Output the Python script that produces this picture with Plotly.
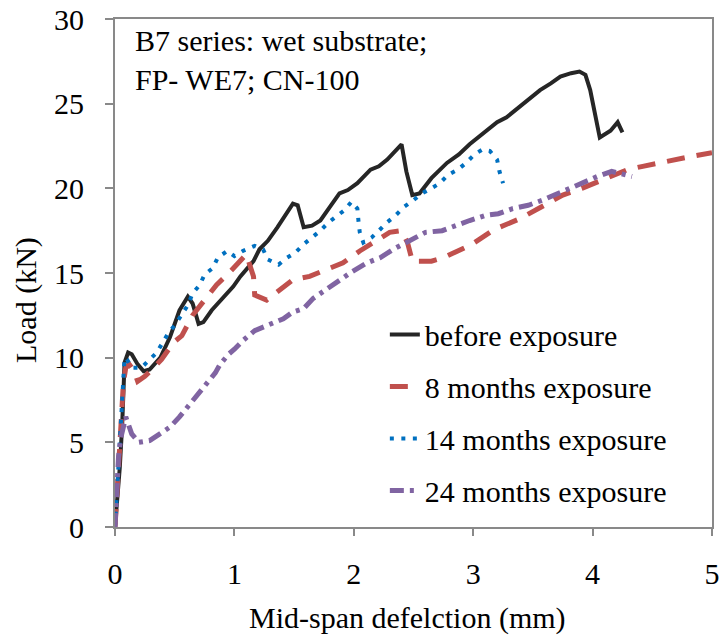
import plotly.graph_objects as go

# ---- data (mid-span deflection mm, load kN) ----
before_x = [0, 0.02, 0.04, 0.06, 0.07, 0.08, 0.11, 0.14, 0.19, 0.24, 0.29, 0.38, 0.46, 0.54, 0.61, 0.65,
            0.70, 0.74, 0.81, 0.90, 0.99, 1.05, 1.16, 1.21, 1.28, 1.36, 1.43, 1.49, 1.53, 1.58, 1.65, 1.72,
            1.80, 1.88, 1.95, 2.03, 2.14, 2.21, 2.28, 2.35, 2.40, 2.44, 2.49, 2.55, 2.65, 2.78, 2.88, 2.97,
            3.08, 3.20, 3.28, 3.37, 3.46, 3.56, 3.65, 3.73, 3.82, 3.89, 3.94, 3.98, 4.06, 4.10, 4.15, 4.21, 4.25]
before_y = [0, 1.5, 3.5, 6.0, 7.5, 9.7, 10.3, 10.2, 9.6, 9.2, 9.3, 10.0, 11.2, 12.8, 13.6, 13.2,
            12.0, 12.1, 12.8, 13.5, 14.2, 14.8, 15.7, 16.4, 16.9, 17.7, 18.4, 19.1, 19.0, 17.7, 17.8, 18.1,
            18.9, 19.7, 19.9, 20.3, 21.1, 21.3, 21.7, 22.2, 22.6, 21.0, 19.6, 19.7, 20.6, 21.5, 22.0, 22.6,
            23.2, 23.9, 24.2, 24.7, 25.2, 25.8, 26.2, 26.6, 26.8, 26.9, 26.7, 25.8, 23.0, 23.2, 23.4, 23.9, 23.3]

m8_x = [0, 0.03, 0.05, 0.07, 0.09, 0.12, 0.16, 0.19, 0.25, 0.31, 0.39, 0.49, 0.56, 0.65, 0.73, 0.85,
        0.94, 1.05, 1.10, 1.16, 1.17, 1.27, 1.38, 1.49, 1.63, 1.80, 1.91, 2.05, 2.18, 2.30, 2.40, 2.45,
        2.49, 2.65, 2.75, 2.89, 2.99, 3.14, 3.22, 3.39, 3.49, 3.64, 3.75, 3.91, 4.04, 4.17, 4.29, 4.42,
        4.56, 4.73, 4.84, 5.0]
m8_y = [0, 3.0, 6.0, 8.5, 9.4, 9.6, 9.2, 8.6, 8.9, 9.3, 9.9, 10.9, 11.3, 12.5, 13.2, 14.3,
        14.9, 15.8, 16.1, 14.8, 13.7, 13.4, 14.0, 14.6, 14.8, 15.3, 15.6, 16.3, 16.9, 17.4, 17.5, 16.8,
        15.7, 15.7, 15.9, 16.4, 16.7, 17.4, 17.7, 18.2, 18.6, 19.2, 19.6, 20.0, 20.4, 20.8, 21.1, 21.3,
        21.5, 21.8, 21.9, 22.1]

m14_x = [0, 0.02, 0.04, 0.06, 0.07, 0.08, 0.10, 0.14, 0.22, 0.29, 0.35, 0.40, 0.45, 0.50, 0.56, 0.61,
         0.65, 0.71, 0.75, 0.82, 0.86, 0.94, 1.00, 1.07, 1.17, 1.24, 1.28, 1.37, 1.44, 1.51, 1.58, 1.65,
         1.72, 1.79, 1.85, 1.92, 1.98, 2.03, 2.04, 2.05, 2.08, 2.15, 2.21, 2.28, 2.35, 2.42, 2.50, 2.57,
         2.65, 2.72, 2.79, 2.87, 2.94, 3.01, 3.08, 3.14, 3.20, 3.22, 3.25]
m14_y = [0, 2.5, 5.5, 7.4, 8.8, 10.0, 9.9, 9.4, 9.4, 9.9, 10.3, 10.9, 11.5, 11.9, 12.5, 13.1,
         13.8, 14.3, 14.9, 15.3, 15.9, 16.3, 16.0, 16.3, 16.6, 16.4, 15.8, 15.5, 15.9, 16.2, 16.7, 17.1,
         17.5, 18.0, 18.3, 18.7, 19.2, 18.8, 18.0, 17.4, 16.8, 17.1, 17.5, 18.0, 18.4, 18.9, 19.3, 19.7,
         20.0, 20.3, 20.8, 21.1, 21.5, 22.0, 22.3, 22.2, 21.7, 21.0, 20.3]

m24_x = [0, 0.01, 0.02, 0.03, 0.05, 0.07, 0.09, 0.14, 0.20, 0.29, 0.36, 0.46, 0.54, 0.61, 0.68, 0.77,
         0.84, 0.88, 0.95, 1.00, 1.07, 1.17, 1.24, 1.33, 1.41, 1.49, 1.58, 1.66, 1.74, 1.83, 1.91, 1.99,
         2.11, 2.22, 2.33, 2.41, 2.50, 2.60, 2.74, 2.85, 2.97, 3.10, 3.21, 3.33, 3.46, 3.58, 3.71, 3.81,
         3.92, 4.04, 4.16, 4.27, 4.33]
m24_y = [0, 1.5, 3.0, 4.2, 5.3, 6.1, 6.5, 5.5, 5.0, 5.1, 5.4, 5.9, 6.5, 7.1, 7.7, 8.5,
         9.1, 9.6, 10.2, 10.5, 11.0, 11.6, 11.8, 12.0, 12.3, 12.7, 12.9, 13.5, 13.9, 14.3, 14.7, 15.1,
         15.6, 15.9, 16.4, 16.7, 17.0, 17.4, 17.5, 17.8, 18.1, 18.4, 18.5, 18.8, 19.0, 19.3, 19.7, 20.0,
         20.4, 20.7, 21.0, 20.8, 20.7]

x_ticks = [0, 1, 2, 3, 4, 5]
y_ticks = [0, 5, 10, 15, 20, 25, 30]

FONT = "Liberation Serif"
AXIS_GRAY = "#898989"

fig = go.Figure()
fig.add_trace(go.Scatter(x=before_x, y=before_y, mode="lines", name="before exposure",
                         legendgroup="a", line=dict(color="#262626", width=4)))
fig.add_trace(go.Scatter(x=m8_x, y=m8_y, mode="lines", name="8 months exposure",
                         legendgroup="b", line=dict(color="#C0504D", width=5, dash="18px,12px")))
fig.add_trace(go.Scatter(x=m14_x, y=m14_y, mode="lines", name="14 months exposure",
                         legendgroup="c", line=dict(color="#0070C0", width=4, dash="4px,7.5px")))
fig.add_trace(go.Scatter(x=m24_x, y=m24_y, mode="lines", name="24 months exposure",
                         legendgroup="d", line=dict(color="#8064A2", width=5, dash="14px,6px,4px,6px")))

fig.update_layout(
    template="none",
    width=721, height=643,
    margin=dict(l=115, r=9, t=19, b=116, autoexpand=False),
    paper_bgcolor="white", plot_bgcolor="white",
    font=dict(family=FONT, size=30, color="black"),
    showlegend=True,
    legend=dict(x=0.452, y=0.43, xanchor="left", yanchor="top", bgcolor="rgba(0,0,0,0)",
                font=dict(family=FONT, size=30, color="black"), tracegroupgap=10, itemwidth=30),
    annotations=[
        dict(text="B7 series: wet substrate;<br>FP- WE7; CN-100", xref="paper", yref="paper",
             x=0.03, y=0.995, xanchor="left", yanchor="top", showarrow=False, align="left",
             font=dict(family=FONT, size=30, color="black")),
        dict(text="Mid-span defelction (mm)", xref="paper", yref="paper", x=0.49, y=-0.18,
             xanchor="center", yanchor="middle", showarrow=False,
             font=dict(family=FONT, size=30, color="black")),
        dict(text="Load (kN)", xref="paper", yref="paper", x=-0.149, y=0.447, textangle=-90,
             xanchor="center", yanchor="middle", showarrow=False,
             font=dict(family=FONT, size=30, color="black")),
    ],
)
fig.update_xaxes(range=[0, 5], tickvals=x_ticks, ticktext=[str(v) for v in x_ticks], automargin=False,
                 showgrid=False, zeroline=False, showline=True, linecolor=AXIS_GRAY, linewidth=2,
                 mirror=True, ticks="outside", ticklen=7, tickcolor=AXIS_GRAY, tickwidth=1.5,
                 tickfont=dict(family=FONT, size=30, color="black"), ticklabelstandoff=12,
                 ticklabeloverflow="allow")
fig.update_yaxes(range=[0, 30], tickvals=y_ticks, ticktext=[str(v) for v in y_ticks], automargin=False,
                 showgrid=False, zeroline=False, showline=True, linecolor=AXIS_GRAY, linewidth=2,
                 mirror=True, ticks="outside", ticklen=8, tickcolor=AXIS_GRAY, tickwidth=1.5,
                 tickfont=dict(family=FONT, size=30, color="black"), ticklabelstandoff=15,
                 ticklabeloverflow="allow")

# remove the default 8px page margin so the figure sits at the window's top-left corner
fig.write_html("out.html", config={"displayModeBar": False},
               post_script="document.body.style.margin='0';document.body.style.overflow='hidden';")
